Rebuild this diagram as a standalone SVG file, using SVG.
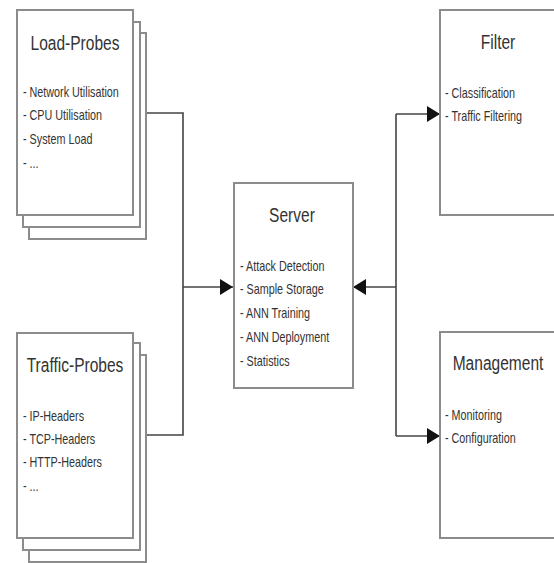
<svg xmlns="http://www.w3.org/2000/svg" width="554" height="563" viewBox="0 0 554 563">
<defs>
<style>
.box{fill:#fff;stroke:#8c8c8c;stroke-width:2}
.t{font-family:"Liberation Sans",Arial,sans-serif;font-size:21px;fill:#333;text-anchor:middle}
.i{font-family:"Liberation Sans",Arial,sans-serif;font-size:14px;fill:#333}
.c{fill:none;stroke:#444;stroke-width:1.6}
</style>
<marker id="ah" markerUnits="userSpaceOnUse" markerWidth="14" markerHeight="18" refX="13" refY="9" orient="auto">
<path d="M0,1 L13,9 L0,17 Z" fill="#111"/>
</marker>
</defs>
<rect width="554" height="563" fill="#fff"/>
<g id="connectors">
<polyline class="c" points="133,113 183,113 183,435 133,435"/>
<line class="c" x1="183" y1="287" x2="233" y2="287" marker-end="url(#ah)"/>
<line class="c" x1="396" y1="287" x2="353" y2="287" marker-end="url(#ah)"/>
<line class="c" x1="396" y1="114" x2="396" y2="436"/>
<line class="c" x1="396" y1="114" x2="440" y2="114" marker-end="url(#ah)"/>
<line class="c" x1="396" y1="436" x2="440" y2="436" marker-end="url(#ah)"/>
</g>
<g id="load-probes">
<rect class="box" x="29" y="33" width="117" height="206"/>
<rect class="box" x="23" y="22" width="117" height="205"/>
<rect class="box" x="17" y="10" width="116" height="205"/>
<text class="t" transform="translate(75,50) scale(0.74,1)">Load-Probes</text>
<text class="i" transform="translate(23,97) scale(0.77,1)">- Network Utilisation</text>
<text class="i" transform="translate(23,120) scale(0.77,1)">- CPU Utilisation</text>
<text class="i" transform="translate(23,144) scale(0.77,1)">- System Load</text>
<text class="i" transform="translate(23,168) scale(0.77,1)">- ...</text>
</g>
<g id="traffic-probes">
<rect class="box" x="29" y="355" width="117" height="207"/>
<rect class="box" x="23" y="343" width="117" height="207"/>
<rect class="box" x="17" y="333" width="116" height="205"/>
<text class="t" transform="translate(75,372) scale(0.74,1)">Traffic-Probes</text>
<text class="i" transform="translate(23,421) scale(0.77,1)">- IP-Headers</text>
<text class="i" transform="translate(23,444) scale(0.77,1)">- TCP-Headers</text>
<text class="i" transform="translate(23,467) scale(0.77,1)">- HTTP-Headers</text>
<text class="i" transform="translate(23,491) scale(0.77,1)">- ...</text>
</g>
<g id="server">
<rect class="box" x="234" y="183" width="119" height="205"/>
<text class="t" transform="translate(292,222) scale(0.74,1)">Server</text>
<text class="i" transform="translate(240,271) scale(0.77,1)">- Attack Detection</text>
<text class="i" transform="translate(240,294) scale(0.77,1)">- Sample Storage</text>
<text class="i" transform="translate(240,318) scale(0.77,1)">- ANN Training</text>
<text class="i" transform="translate(240,342) scale(0.77,1)">- ANN Deployment</text>
<text class="i" transform="translate(240,366) scale(0.77,1)">- Statistics</text>
</g>
<g id="filter">
<rect class="box" x="440" y="10" width="130" height="205"/>
<text class="t" transform="translate(498,49) scale(0.74,1)">Filter</text>
<text class="i" transform="translate(445,98) scale(0.77,1)">- Classification</text>
<text class="i" transform="translate(445,121) scale(0.77,1)">- Traffic Filtering</text>
</g>
<g id="management">
<rect class="box" x="440" y="332" width="130" height="206"/>
<text class="t" transform="translate(498,370) scale(0.74,1)">Management</text>
<text class="i" transform="translate(445,420) scale(0.77,1)">- Monitoring</text>
<text class="i" transform="translate(445,443) scale(0.77,1)">- Configuration</text>
</g>
</svg>
